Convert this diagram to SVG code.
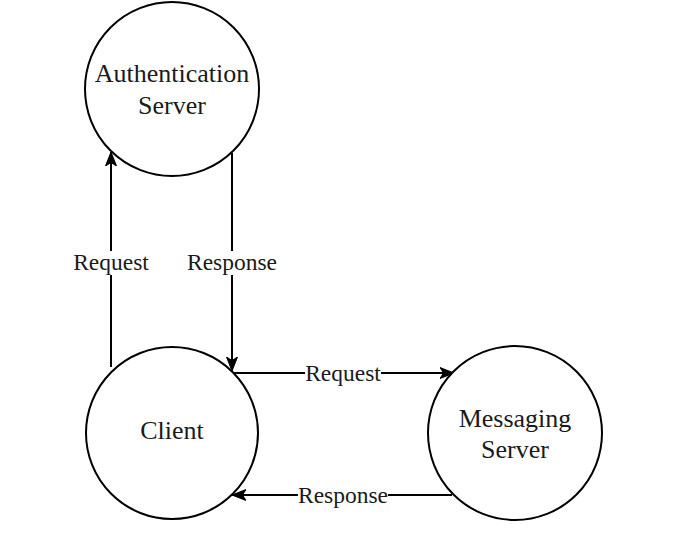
<svg xmlns="http://www.w3.org/2000/svg" width="680" height="558" viewBox="0 0 680 558">
<defs>
<marker id="arrow" markerWidth="16" markerHeight="14" refX="14" refY="7" orient="auto" markerUnits="userSpaceOnUse">
<path d="M0,1.5 L14,7 L0,12.5 L3.5,7 Z" fill="#000" stroke="#000" stroke-width="1"/>
</marker>
</defs>
<style>
.node circle{fill:#fff;stroke:#000;stroke-width:2}
.node text{font-family:"Liberation Serif","Times New Roman",serif;font-size:26px;fill:#1a1a1a;text-anchor:middle}
.edge line{stroke:#000;stroke-width:2;fill:none}
.lbl rect{fill:#fff}
.lbl text{font-family:"Liberation Serif","Times New Roman",serif;font-size:23.5px;fill:#1a1a1a;text-anchor:middle}
</style>
<rect width="680" height="558" fill="#fff"/>
<g id="connectors" class="edge">
<line x1="111" y1="367" x2="111" y2="152" marker-end="url(#arrow)"/>
<line x1="232" y1="153" x2="232" y2="371" marker-end="url(#arrow)"/>
<line x1="232" y1="373" x2="454" y2="373" marker-end="url(#arrow)"/>
<line x1="452" y1="495" x2="232" y2="495" marker-end="url(#arrow)"/>
<g class="lbl">
<rect x="72" y="251" width="79" height="24"/>
<text x="111" y="270">Request</text>
<rect x="186" y="251" width="92" height="24"/>
<text x="232" y="270">Response</text>
<rect x="305" y="362" width="76" height="22"/>
<text x="343" y="381">Request</text>
<rect x="298" y="484" width="90" height="22"/>
<text x="343" y="503">Response</text>
</g>
</g>
<g id="auth" class="node">
<circle cx="172" cy="89" r="87"/>
<text x="172" y="82">Authentication</text>
<text x="172" y="114">Server</text>
</g>
<g id="client" class="node">
<circle cx="172" cy="433" r="86"/>
<text x="172" y="439">Client</text>
</g>
<g id="messaging" class="node">
<circle cx="515" cy="433" r="87"/>
<text x="515" y="427">Messaging</text>
<text x="515" y="458">Server</text>
</g>
</svg>
